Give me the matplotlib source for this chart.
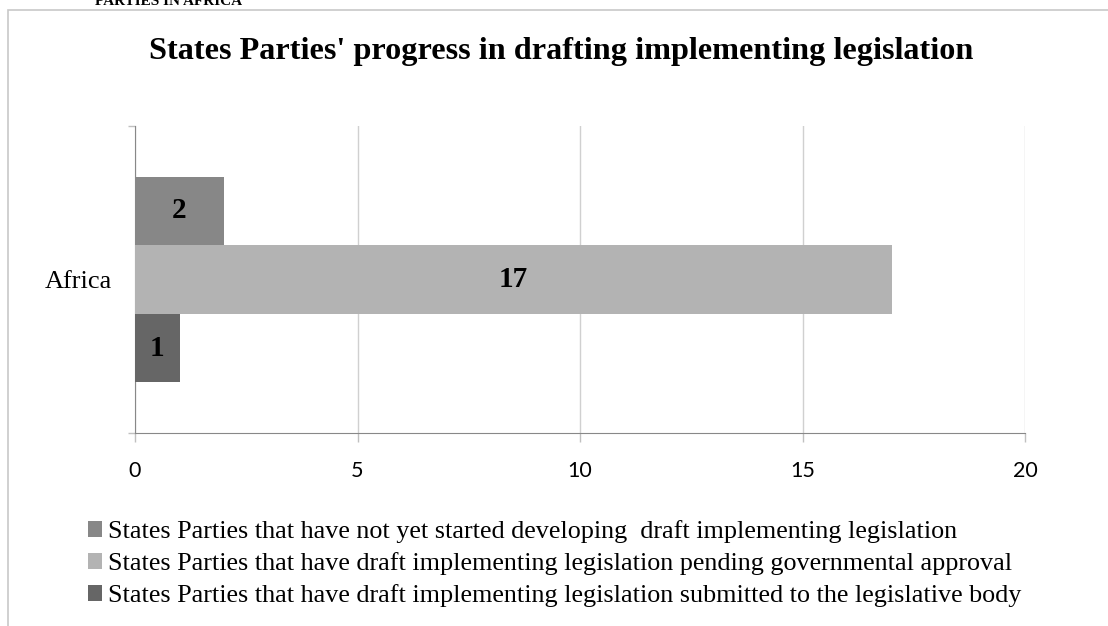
import numpy as np
import matplotlib.pyplot as plt
from matplotlib.patches import Rectangle

# Datos
categoria = ['Africa']
series = ['States Parties that have not yet started developing  draft implementing legislation',
          'States Parties that have draft implementing legislation pending governmental approval',
          'States Parties that have draft implementing legislation submitted to the legislative body']
valores = [2, 17, 1]
cores = ['#878787', '#b3b3b3', '#666666']
ticks_x = [0, 5, 10, 15, 20]

W, H = 1108, 626
fig = plt.figure(figsize=(W / 100, H / 100), dpi=100)

# moldura do grafico
fig.patches.append(Rectangle((8 / W, -0.1), 1.2, 1 - 10 / H + 0.1, transform=fig.transFigure,
                             fill=False, edgecolor='#c8c8c8', linewidth=1.2))

# titulo cortado no topo
fig.text(95 / W, 1 - 5 / H, 'PARTIES IN AFRICA', family='Liberation Serif', weight='bold',
         fontsize=11, ha='left', va='baseline')

fig.text(561 / W, 1 - 52 / H, "States Parties' progress in drafting implementing legislation",
         family='Liberation Serif', weight='bold', fontsize=23.2, ha='center', va='center')

ax = fig.add_axes([135 / W, 1 - 433 / H, (1025 - 135) / W, (433 - 126) / H])

bh = 68.5 / 307
centros = [0.5 + bh, 0.5, 0.5 - bh]
barras = []
for i in range(3):
    b = ax.barh(centros[i], valores[i], height=bh, color=cores[i], label=series[i], zorder=3)
    barras.append(b)
    ax.text(valores[i] / 2, centros[i], str(valores[i]), ha='center', va='center',
            family='Liberation Serif', weight='bold', fontsize=21, zorder=4)

ax.set_xlim(0, 20)
ax.set_ylim(0, 1)
ax.set_xticks(ticks_x)
ax.set_xticklabels([str(t) for t in ticks_x], family='Lato', fontsize=15.5)
ax.xaxis.grid(True, color='#d0d0d0', linewidth=1, zorder=0)
ax.set_yticks([0.5])
ax.set_yticklabels(categoria, family='Liberation Serif', fontsize=19)
ax.set_yticks([0, 1], minor=True)
ax.tick_params(axis='y', which='major', length=0, pad=16.5)
ax.tick_params(axis='y', which='minor', length=5, color='#c0c0c0', width=1)
ax.tick_params(axis='x', length=6.5, color='#c0c0c0', width=1, pad=13.5)

for s in ['top', 'right']:
    ax.spines[s].set_visible(False)
ax.spines['left'].set_color('#888888')
ax.spines['bottom'].set_color('#888888')

fig.legend(handles=barras, labels=series, loc='upper left', bbox_to_anchor=(88 / W, 1 - 520 / H),
           frameon=False, prop={'family': 'Liberation Serif', 'size': 18.8},
           handlelength=0.54, handleheight=0.54, handletextpad=0.23, labelspacing=0.35,
           borderaxespad=0, borderpad=0)

fig.savefig('out.png', dpi=100)
